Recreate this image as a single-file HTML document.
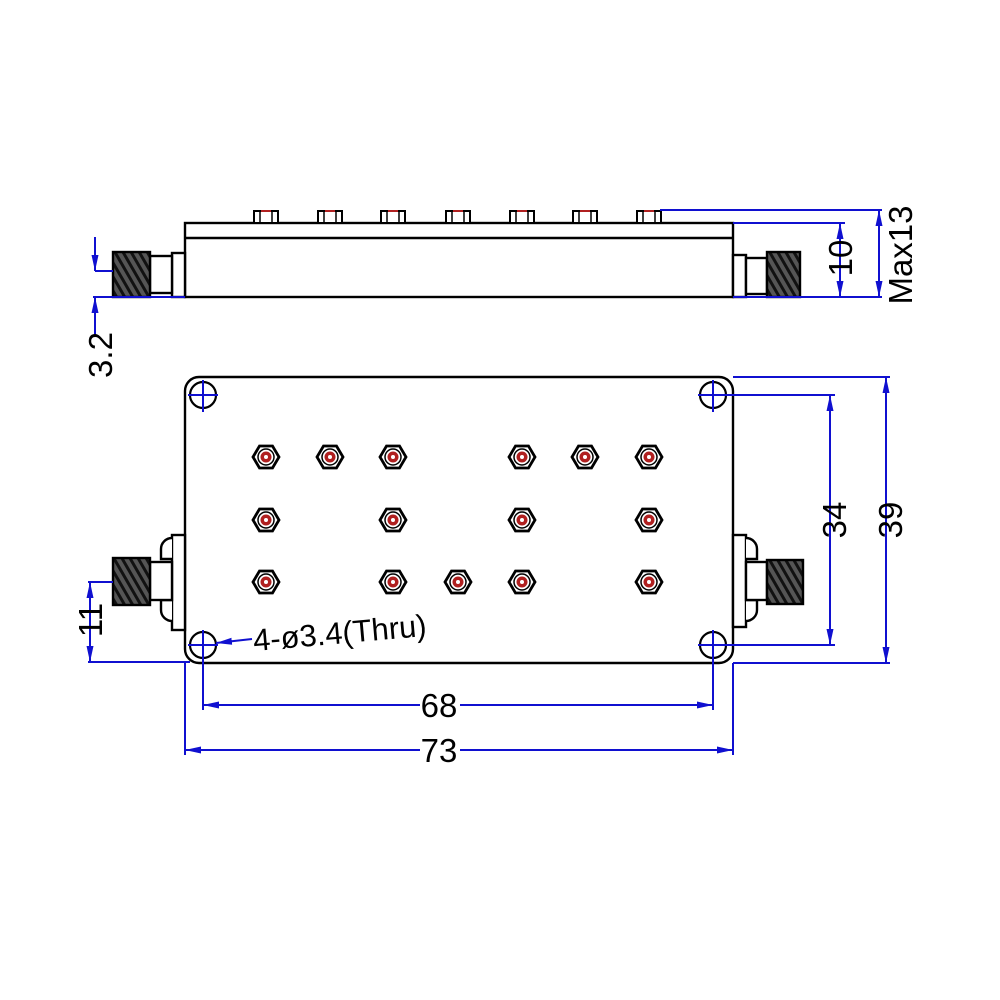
<!DOCTYPE html>
<html><head><meta charset="utf-8"><style>html,body{margin:0;padding:0;background:#fff}svg{display:block}</style></head>
<body>
<svg width="1000" height="1000" viewBox="0 0 1000 1000" xmlns="http://www.w3.org/2000/svg" font-family="Liberation Sans, sans-serif">
<defs>
<marker id="a" viewBox="0 0 16 8" refX="16" refY="4" markerWidth="16" markerHeight="8" markerUnits="userSpaceOnUse" orient="auto-start-reverse"><path d="M0,0.5 L16,4 L0,7.5z" fill="#1010d0"/></marker>
<pattern id="th" width="7" height="8" patternUnits="userSpaceOnUse" patternTransform="rotate(-30)"><rect width="7" height="8" fill="#555"/><rect width="3" height="8" fill="#111"/></pattern>
<g id="hex"><polygon points="-13,0 -6.5,-11 6.5,-11 13,0 6.5,11 -6.5,11" fill="#fff" stroke="#000" stroke-width="2.8"/><circle r="8" fill="#fff" stroke="#000" stroke-width="1.5"/><circle r="5.5" fill="#b02020"/><circle r="2" fill="#fff"/></g>
<g id="nut"><rect x="-12" y="-12" width="24" height="12" fill="#fff" stroke="#000" stroke-width="2"/><line x1="-6" y1="-12" x2="-6" y2="0" stroke="#000" stroke-width="1.5"/><line x1="6" y1="-12" x2="6" y2="0" stroke="#000" stroke-width="1.5"/><line x1="-5" y1="-12" x2="5" y2="-12" stroke="#b02020" stroke-width="2"/></g>
<g id="hole"><circle r="13" fill="#fff" stroke="#000" stroke-width="2.2"/><line x1="-15" y1="0" x2="15" y2="0" stroke="#1010d0" stroke-width="2"/><line x1="0" y1="-15" x2="0" y2="17" stroke="#1010d0" stroke-width="2"/></g>
</defs>
<g stroke="#000" stroke-width="2.4" fill="#fff">
<rect x="185" y="223" width="548" height="74"/>
<line x1="185" y1="238" x2="733" y2="238"/>
<rect x="172" y="253" width="13" height="44"/>
<path d="M172,264 a8,12 0 0 0 0,24" />
<rect x="150" y="256" width="22" height="37"/>
<rect x="113" y="252" width="37" height="45" fill="url(#th)"/>
<rect x="733" y="255" width="13" height="42"/>
<path d="M746,264 a8,12 0 0 1 0,24"/>
<rect x="746" y="258" width="21" height="36"/>
<rect x="767" y="252" width="33" height="45" fill="url(#th)"/>
</g>
<g><use href="#nut" x="266" y="223"/><use href="#nut" x="330" y="223"/><use href="#nut" x="393" y="223"/><use href="#nut" x="458" y="223"/><use href="#nut" x="522" y="223"/><use href="#nut" x="585" y="223"/><use href="#nut" x="649" y="223"/></g>
<g stroke="#000" stroke-width="2.4" fill="#fff">
<rect x="185" y="377" width="548" height="286" rx="14"/>
<rect x="172" y="535" width="13" height="95"/>
<path d="M172,538 a11,11 0 0 0 -11,11 v10 h11 M172,600 h-11 v10 a11,11 0 0 0 11,11"/>
<rect x="150" y="562" width="22" height="38"/>
<rect x="113" y="558" width="37" height="47" fill="url(#th)"/>
<rect x="733" y="535" width="13" height="92"/>
<path d="M746,538 a11,11 0 0 1 11,11 v10 h-11 M746,600 h11 v10 a11,11 0 0 1 -11,11"/>
<rect x="746" y="562" width="21" height="38"/>
<rect x="767" y="560" width="36" height="44" fill="url(#th)"/>
</g>
<use href="#hole" x="203" y="395"/><use href="#hole" x="713" y="395"/><use href="#hole" x="203" y="645"/><use href="#hole" x="713" y="645"/>
<g>
<use href="#hex" x="266" y="457"/><use href="#hex" x="330" y="457"/><use href="#hex" x="393" y="457"/><use href="#hex" x="522" y="457"/><use href="#hex" x="585" y="457"/><use href="#hex" x="649" y="457"/>
<use href="#hex" x="266" y="520"/><use href="#hex" x="393" y="520"/><use href="#hex" x="522" y="520"/><use href="#hex" x="649" y="520"/>
<use href="#hex" x="266" y="582"/><use href="#hex" x="393" y="582"/><use href="#hex" x="458" y="582"/><use href="#hex" x="522" y="582"/><use href="#hex" x="649" y="582"/>
</g>
<g stroke="#1010d0" stroke-width="2" fill="none">
<line x1="95" y1="271" x2="113" y2="271"/>
<line x1="95" y1="237" x2="95" y2="271" marker-end="url(#a)"/>
<line x1="93" y1="297" x2="185" y2="297"/>
<line x1="95" y1="335" x2="95" y2="297" marker-end="url(#a)"/>
<line x1="733" y1="223" x2="845" y2="223"/>
<line x1="733" y1="297" x2="882" y2="297"/>
<line x1="660" y1="210" x2="882" y2="210"/>
<line x1="840" y1="260" x2="840" y2="223" marker-end="url(#a)"/>
<line x1="840" y1="260" x2="840" y2="297" marker-end="url(#a)"/>
<line x1="879" y1="250" x2="879" y2="210" marker-end="url(#a)"/>
<line x1="879" y1="250" x2="879" y2="297" marker-end="url(#a)"/>
<line x1="88" y1="582" x2="113" y2="582"/>
<line x1="88" y1="662" x2="190" y2="662"/>
<line x1="90" y1="620" x2="90" y2="582" marker-end="url(#a)"/>
<line x1="90" y1="620" x2="90" y2="662" marker-end="url(#a)"/>
<line x1="713" y1="395" x2="835" y2="395"/>
<line x1="713" y1="645" x2="835" y2="645"/>
<line x1="733" y1="377" x2="890" y2="377"/>
<line x1="733" y1="663" x2="890" y2="663"/>
<line x1="830" y1="520" x2="830" y2="395" marker-end="url(#a)"/>
<line x1="830" y1="520" x2="830" y2="645" marker-end="url(#a)"/>
<line x1="886" y1="520" x2="886" y2="377" marker-end="url(#a)"/>
<line x1="886" y1="520" x2="886" y2="663" marker-end="url(#a)"/>
<line x1="203" y1="645" x2="203" y2="710"/>
<line x1="713" y1="645" x2="713" y2="710"/>
<line x1="185" y1="663" x2="185" y2="755"/>
<line x1="733" y1="663" x2="733" y2="755"/>
<line x1="420" y1="705" x2="203" y2="705" marker-end="url(#a)"/>
<line x1="460" y1="705" x2="713" y2="705" marker-end="url(#a)"/>
<line x1="420" y1="750" x2="185" y2="750" marker-end="url(#a)"/>
<line x1="460" y1="750" x2="733" y2="750" marker-end="url(#a)"/>
<line x1="252" y1="639" x2="216" y2="643" marker-end="url(#a)"/>
</g>
<g fill="#000" font-size="33">
<text x="439" y="717" text-anchor="middle">68</text>
<text x="439" y="762" text-anchor="middle">73</text>
<text x="0" y="0" transform="translate(112,355) rotate(-90)" text-anchor="middle">3.2</text>
<text x="0" y="0" transform="translate(852,258) rotate(-90)" text-anchor="middle">10</text>
<text x="0" y="0" transform="translate(912,255) rotate(-90)" text-anchor="middle">Max13</text>
<text x="0" y="0" transform="translate(102,620) rotate(-90)" text-anchor="middle">11</text>
<text x="0" y="0" transform="translate(846,520) rotate(-90)" text-anchor="middle">34</text>
<text x="0" y="0" transform="translate(902,520) rotate(-90)" text-anchor="middle">39</text>
<text x="0" y="0" transform="translate(254,651) rotate(-5)" font-size="31">4-ø3.4(Thru)</text>
</g>
</svg>
</body></html>
